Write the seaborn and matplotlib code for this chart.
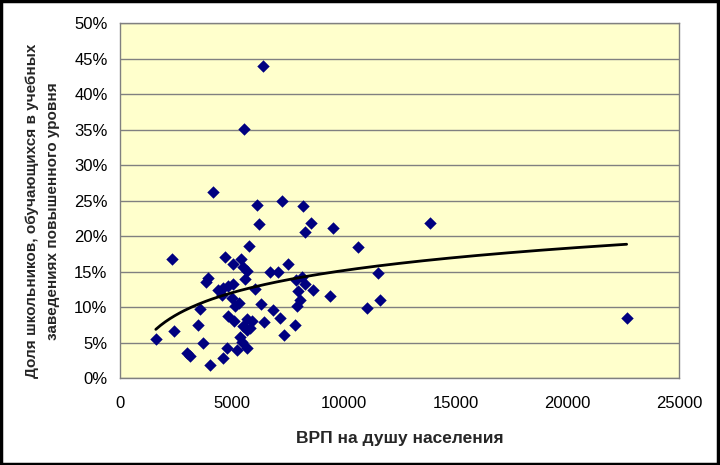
import numpy as np
import pandas as pd
import matplotlib
matplotlib.use('Agg')
import matplotlib.pyplot as plt
import seaborn as sns
from matplotlib.ticker import PercentFormatter, MultipleLocator

# ВРП на душу населения и доля школьников
grp = [6380, 5560, 4170, 6110, 7260, 8180, 8540, 6230, 8290, 9540,
       10660, 13860, 5790, 2320, 4700, 5050, 5420, 5520, 5680, 5570,
       3930, 3830, 6700, 7050, 7510, 7860, 8120, 8260, 8610, 7950,
       6040, 4390, 4620, 4850, 5070, 4580, 5000, 5140, 5330, 8050,
       7910, 6320, 3560, 6840, 7140, 4830, 5120, 5680, 5900, 5520,
       5820, 5670, 6460, 3500, 2420, 1600, 7840, 7340, 3710, 5380,
       5450, 4790, 5210, 5660, 2980, 3130, 4590, 4040, 9390, 11560,
       11640, 11030, 22660]
share = [0.439, 0.351, 0.262, 0.244, 0.249, 0.242, 0.219, 0.217, 0.205, 0.211,
         0.185, 0.218, 0.186, 0.167, 0.170, 0.160, 0.167, 0.157, 0.151, 0.139,
         0.141, 0.135, 0.149, 0.149, 0.160, 0.138, 0.142, 0.133, 0.124, 0.123,
         0.125, 0.124, 0.127, 0.129, 0.133, 0.117, 0.113, 0.102, 0.105, 0.110,
         0.101, 0.104, 0.097, 0.096, 0.085, 0.088, 0.080, 0.083, 0.081, 0.074,
         0.071, 0.067, 0.079, 0.075, 0.066, 0.055, 0.075, 0.060, 0.049, 0.058,
         0.051, 0.043, 0.039, 0.042, 0.035, 0.031, 0.028, 0.019, 0.115, 0.148,
         0.110, 0.099, 0.084]

x_ticks = [0, 5000, 10000, 15000, 20000, 25000]

df = pd.DataFrame({'grp': grp, 'share': share})

# логарифмический тренд как в Excel
b, a = np.polyfit(np.log(df['grp']), df['share'], 1)
xs = np.linspace(df['grp'].min(), df['grp'].max(), 200)
trend = pd.DataFrame({'grp': xs, 'share': a + b * np.log(xs)})

sns.set_style('white')
plt.rcParams['font.family'] = ['Liberation Sans Narrow', 'Liberation Sans', 'DejaVu Sans']

fig = plt.figure(figsize=(7.2, 4.65), dpi=100)
ax = fig.add_axes([0.1667, 0.187, 0.7763, 0.7635])
ax.set_facecolor('#FFFFCC')

sns.scatterplot(data=df, x='grp', y='share', marker='D', color='#000080',
                s=40, linewidth=0, ax=ax, zorder=3)
sns.lineplot(data=trend, x='grp', y='share', color='black', linewidth=2.0,
             ax=ax, zorder=4)

ax.set_xlim(0, 25000)
ax.set_ylim(0, 0.5)
ax.set_xticks(x_ticks)
ax.yaxis.set_major_locator(MultipleLocator(0.05))
ax.yaxis.set_major_formatter(PercentFormatter(1.0, decimals=0))
ax.grid(axis='y', color='#808080', linewidth=1.0)
ax.grid(axis='x', visible=False)
ax.set_axisbelow(True)
for s in ax.spines.values():
    s.set_color('#808080')
    s.set_linewidth(1.0)
ax.tick_params(axis='both', which='major', direction='out', length=5,
               color='#808080', labelsize=12, labelcolor='black', pad=4)
ax.tick_params(axis='x', pad=8)

ax.set_xlabel('ВРП на душу населения', fontsize=12.5, fontweight='bold', labelpad=14)
ax.set_ylabel('Доля школьников, обучающихся в учебных\nзаведениях повышенного уровня',
              fontsize=11, fontweight='bold', labelpad=10, linespacing=1.65)
ax.yaxis.label.set_y(0.47)

# рамка вокруг всей диаграммы
fig.patches.append(plt.Rectangle((0.002, 0.003), 0.995, 0.994, transform=fig.transFigure,
                                 fill=False, edgecolor='black', linewidth=2.5))

fig.savefig('out.png', dpi=100)
